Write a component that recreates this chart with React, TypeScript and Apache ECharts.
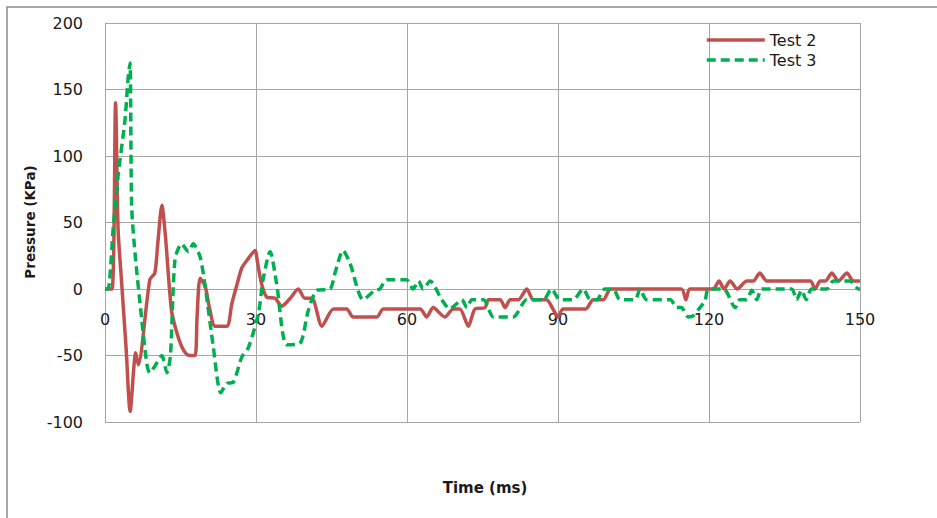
import React, { useEffect, useRef } from "react";
import * as echarts from "echarts";

// Test 2 : [time (ms), pressure (kPa)]
const test2: [number, number][] = [
  [0, 0], [1.4, 0], [2.1, 140], [2.6, 45], [3.3, 5], [4.2, -45], [5.0, -92],
  [6.1, -48], [6.6, -57], [8.9, 7], [9.9, 12], [10.5, 35], [11.3, 63], [12.0, 40],
  [13.2, -16], [14.2, -32], [15.2, -43], [16.2, -49], [16.9, -50], [17.9, -50],
  [18.3, -20], [18.9, 8], [19.9, 2], [20.8, -15], [21.9, -28], [24.2, -28],
  [25.2, -11], [26.2, 3], [27.2, 16], [28.5, 23], [29.8, 29], [30.3, 20],
  [31.1, 4], [32.1, -6], [33.8, -7], [35.1, -13], [36.8, -7], [38.4, 0],
  [39.7, -7], [41.1, -7], [43.1, -28], [45.4, -15], [48.0, -15], [49.3, -21],
  [54.0, -21], [55.3, -15], [62.6, -15], [63.9, -21], [65.2, -14], [67.5, -21],
  [69.2, -15], [70.5, -15], [72.2, -28], [73.5, -15], [75.5, -14], [76.2, -8],
  [78.5, -8], [79.5, -14], [80.5, -8], [82.1, -8], [83.8, 0], [85.1, -8],
  [87.7, -8], [89.0, -15], [90.0, -21], [91.0, -15], [95.5, -15], [97.0, -8],
  [99.0, -8], [100.5, 0], [114.5, 0], [115.4, -8], [116.2, 0], [120.8, 0],
  [122.0, 6], [123.0, 0], [124.2, 6], [125.6, 0], [127.5, 6], [128.8, 6],
  [130.1, 12], [131.5, 6], [140.1, 6], [141.1, 0], [142.1, 6], [143.1, 6],
  [144.4, 12], [145.7, 6], [147.4, 12], [148.7, 6], [150, 6],
];

// Test 3 : [time (ms), pressure (kPa)]
const test3: [number, number][] = [
  [0, 0], [0.6, 0], [1.66, 47], [2.65, 87], [3.97, 127], [4.6, 159], [4.97, 170],
  [5.3, 62], [5.96, 27], [7.3, -23], [8.3, -56], [8.9, -63], [9.9, -58],
  [11.3, -50], [12.3, -63], [13.0, -50], [13.9, 22], [15.2, 34], [16.6, 28],
  [17.5, 34], [18.9, 24], [19.9, 2], [21.5, -43], [23.0, -78], [24.2, -71],
  [25.5, -70], [27.2, -51], [28.5, -44], [30.5, -18], [31.4, 7], [32.8, 28],
  [34.1, 4], [36.1, -42], [38.7, -41], [40.4, -16], [42.1, -1], [44.7, 0],
  [45.7, 12], [47.3, 29], [48.7, 19], [51.3, -8], [53.6, -1], [54.6, 0],
  [56.0, 7], [59.9, 7], [61.2, 0], [62.3, 6], [63.2, 0], [64.6, 6], [66.9, -8],
  [68.5, -15], [69.9, -11], [70.9, -8], [71.9, -14], [72.9, -8], [75.2, -8],
  [77.2, -21], [81.1, -21], [83.8, -8], [87.1, -8], [88.7, 0], [90.4, -8],
  [93.0, -8], [95.0, 0], [96.4, -8], [97.7, -8], [99.3, 0], [101.0, 0],
  [102.3, -8], [105.3, -8], [106.3, 0], [107.6, -8], [112.3, -8], [113.6, -14],
  [114.5, -14], [115.9, -21], [116.9, -20], [118.2, -14], [119.2, -9], [119.9, 0],
  [122.9, 0], [125.2, -14], [126.1, -8], [127.5, -8], [128.5, -1], [129.5, -8],
  [130.5, 0], [136.4, 0], [137.4, -8], [138.4, -1], [139.3, -8], [140.4, 0],
  [143.4, 0], [144.7, 6], [148.0, 6], [149.7, 0], [150, 0],
];

const seriesNames = ["Test 2", "Test 3"];
const xTicks = { min: 0, max: 150, interval: 30 };
const yTicks = { min: -100, max: 200, interval: 50 };

const FONT = "'DejaVu Sans', 'Liberation Sans', sans-serif";

export default function App() {
  const ref = useRef<HTMLDivElement>(null);
  useEffect(() => {
    document.body.style.margin = "0";
    if (!ref.current) return;
    const chart = echarts.init(ref.current, null, { renderer: "svg" });
    const grid = "#a6a6a6";
    const gridTop = 23;
    const gridBottom = 96;
    const plotH = 518 - gridTop - gridBottom;
    // shift the x axis (line + labels) up to the y = 0 position
    const zeroOffset = -plotH * (0 - yTicks.min) / (yTicks.max - yTicks.min);
    chart.setOption({
      animation: false,
      backgroundColor: "#ffffff",
      textStyle: { fontFamily: FONT },
      grid: { left: 105, right: 77, top: gridTop, bottom: gridBottom, containLabel: false },
      graphic: [
        {
          type: "rect",
          shape: { x: 7, y: 7, width: 940, height: 520 },
          style: { fill: "none", stroke: "#8c8c8c", lineWidth: 1.5 },
          silent: true,
        },
        {
          type: "text",
          x: 485,
          y: 488,
          style: {
            text: "Time (ms)",
            font: `bold 15px ${FONT}`,
            fill: "#1a1a1a",
            align: "center",
            verticalAlign: "middle",
          },
        },
        {
          type: "text",
          x: 30,
          y: 222,
          rotation: Math.PI / 2,
          style: {
            text: "Pressure (KPa)",
            font: `bold 13.5px ${FONT}`,
            fill: "#1a1a1a",
            align: "center",
            verticalAlign: "middle",
          },
        },
      ],
      legend: {
        orient: "vertical",
        left: 705,
        top: 32,
        padding: 0,
        itemWidth: 58,
        itemHeight: 14,
        itemGap: 4,
        itemStyle: { opacity: 0 },
        lineStyle: { width: 3.5 },
        textStyle: { fontFamily: FONT, fontSize: 16, color: "#1a1a1a" },
        data: seriesNames,
      },
      xAxis: {
        type: "value",
        min: xTicks.min,
        max: xTicks.max,
        interval: xTicks.interval,
        offset: zeroOffset,
        axisLine: { show: true, onZero: false, lineStyle: { color: grid, width: 1 } },
        axisTick: { show: false },
        axisLabel: { fontSize: 16, color: "#1a1a1a", margin: 22, fontFamily: FONT },
        splitLine: { show: true, lineStyle: { color: grid, width: 1 } },
      },
      yAxis: {
        type: "value",
        min: yTicks.min,
        max: yTicks.max,
        interval: yTicks.interval,
        axisLine: { show: true, lineStyle: { color: grid, width: 1 } },
        axisTick: { show: false },
        axisLabel: { fontSize: 16, color: "#1a1a1a", margin: 22, fontFamily: FONT },
        splitLine: { show: true, lineStyle: { color: grid, width: 1 } },
      },
      series: [
        {
          name: seriesNames[0],
          type: "line",
          data: test2,
          smooth: 0.25,
          symbol: "none",
          lineStyle: { color: "#c0504d", width: 3.5 },
          itemStyle: { color: "#c0504d" },
          z: 3,
        },
        {
          name: seriesNames[1],
          type: "line",
          data: test3,
          smooth: 0.25,
          symbol: "none",
          lineStyle: { color: "#00b050", width: 3.5, type: [9, 5] },
          itemStyle: { color: "#00b050" },
          z: 4,
        },
      ],
    });
    return () => chart.dispose();
  }, []);
  return <div ref={ref} style={{ width: 937, height: 518 }} />;
}
